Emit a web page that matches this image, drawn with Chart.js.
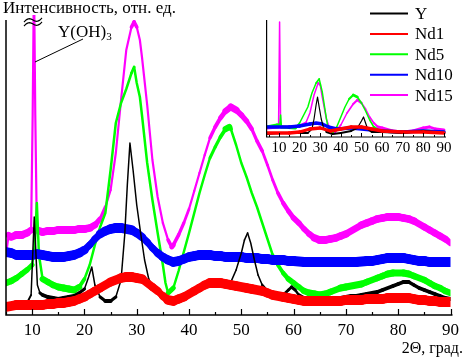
<!DOCTYPE html>
<html><head><meta charset="utf-8">
<script src="https://cdn.jsdelivr.net/npm/chart.js@4/dist/chart.umd.min.js"></script>
<style>
html,body{margin:0;padding:0;background:#fff;}
#wrap{position:relative;width:464px;height:359px;overflow:hidden;}
#main{position:absolute;left:0;top:0;}
#inset{position:absolute;left:250px;top:10px;}
</style></head><body>
<div id="wrap">
<canvas id="main" width="464" height="359"></canvas>
<canvas id="inset" width="214" height="150"></canvas>
</div>
<script>
// ---- data (2Θ in degrees, intensity in arbitrary units) ----
const seriesNames = ['Y', 'Nd1', 'Nd5', 'Nd10', 'Nd15'];
const tickLabels = [10, 20, 30, 40, 50, 60, 70, 80, 90];

const mainY = [[5,8],[6,8],[7,9],[8,10],[9,12],[9.8,20],[10.4,98],[11,30],[11.5,22],[12,20],[13,18],[14,17],[15,16],[16,17],[17,18],[18,19],[19,22],[20,26],[20.8,38],[21.4,48],[22,30],[23,18],[24,14],[25,14],[26,18],[27,35],[27.7,80],[28.2,130],[28.7,172],[29.3,145],[30,110],[30.8,80],[31.5,55],[32.3,36],[33,28],[34,22],[35,17],[36,15],[37,15],[38,17],[39,18],[40,20],[41,23],[42,27],[43,30],[44,32],[45,31],[46,30],[47,29],[48,33],[49,45],[50,62],[50.6,75],[51.2,82],[51.8,72],[52.5,55],[53.2,40],[54,30],[55,24],[56,19],[57,18],[58,20],[59,25],[59.6,28],[60.3,25],[61,20],[62,17],[63,16],[64,15],[65,15],[66,15],[67,16],[68,17],[69,17],[70,18],[71,19],[72,19],[73,20],[74,21],[75,22],[76,23],[77,25],[78,27],[79,29],[80,31],[81,33],[82,33],[83,30],[84,27],[85,25],[86,23],[87,21],[88,19],[89,17],[90,16]];

const mainNd1 = [[5,8],[6,9],[7,10],[8,10],[9,10],[10,10],[11,10],[12,10],[13,11],[14,11],[15,12],[16,12],[17,13],[18,14],[19,16],[20,18],[21,21],[22,24],[23,27],[24,30],[25,33],[26,35],[27,37],[28,38],[29,38],[30,37],[31,36],[32,32],[33,28],[34,24],[35,19],[36,15],[37,14],[38,16],[39,18],[40,21],[41,24],[42,27],[43,30],[44,32],[45,32],[46,32],[47,31],[48,30],[49,29],[50,28],[51,27],[52,26],[53,25],[54,24],[55,22],[56,20],[57,19],[58,18],[59,17],[60,16],[61,15],[62,14],[63,14],[64,14],[65,14],[66,14],[67,14],[68,14],[69,14],[70,15],[71,15],[72,15],[73,15],[74,16],[75,16],[76,16],[77,16],[78,17],[79,17],[80,17],[81,17],[82,17],[83,16],[84,15],[85,15],[86,14],[87,14],[88,13],[89,13],[90,13]];

const mainNd5 = [[5,32],[6,34],[7,37],[8,41],[9,45],[10,50],[10.5,70],[10.9,112],[11.3,60],[12,36],[13,33],[14,30],[15,28],[16,27],[17,26],[18,25],[19,28],[20,36],[21,50],[22,70],[23,88],[24,102],[25,145],[26,192],[27,212],[28,226],[29,242],[29.5,248],[30,232],[30.6,218],[31,200],[32,152],[33,115],[34,82],[35,50],[35.5,32],[36,22],[37,27],[38,44],[39,63],[40,82],[41,102],[42,122],[43,140],[44,157],[45,168],[46,178],[47,186],[47.7,188],[48,186],[49,170],[50,152],[51,138],[52,122],[53,108],[54,92],[55,76],[56,60],[57,50],[58,42],[59,36],[60,32],[61,28],[62,24],[63,22],[64,21],[65,20],[66,21],[67,23],[68,25],[69,27],[70,28],[71,29],[72,30],[73,31],[74,33],[75,35],[76,37],[77,39],[78,41],[79,42],[80,42],[81,42],[82,41],[83,39],[84,37],[85,35],[86,32],[87,29],[88,27],[89,24],[90,22]];

const mainNd10 = [[5,63],[6,62],[7,60],[8,60],[9,60],[10,60],[11,61],[12,60],[13,59],[14,58],[15,58],[16,58],[17,59],[18,60],[19,62],[20,65],[21,70],[22,76],[23,81],[24,84],[25,86],[26,87],[27,87],[28,86],[29,85],[30,82],[31,78],[32,73],[33,67],[34,62],[35,58],[36,55],[37,53],[38,54],[39,56],[40,58],[41,59],[42,60],[43,60],[44,60],[45,59],[46,59],[47,58],[48,58],[49,58],[50,58],[51,57],[52,57],[53,57],[54,56],[55,56],[56,55],[57,55],[58,55],[59,54],[60,54],[62,53],[64,53],[66,53],[68,53],[70,53],[72,53],[74,54],[75,54],[76,55],[77,56],[78,57],[79,57],[80,57],[81,57],[82,56],[83,55],[84,54],[85,54],[86,53],[87,53],[88,53],[89,53],[90,53]];

const mainNd15 = [[5,60],[5.5,80],[6,78],[7,80],[8,80],[9,82],[9.8,85],[10.1,200],[10.35,340],[10.6,200],[10.9,85],[12,83],[13,84],[14,84],[15,85],[16,85],[17,85],[18,85],[19,86],[20,86],[21,87],[22,90],[23,96],[24,108],[25,125],[26,162],[27,215],[28,265],[29,288],[29.5,293],[30,288],[30.6,275],[31,258],[32,210],[33,155],[34,118],[35,92],[36,75],[36.7,68],[37,70],[38,80],[39,92],[40,106],[41,124],[42,142],[43,160],[44,177],[45,188],[46,197],[47,204],[48,208],[49,205],[50,200],[51,194],[52,186],[53,174],[54,164],[55,150],[56,135],[57,122],[58,112],[59,104],[60,97],[61,92],[62,86],[63,81],[64,77],[65,75],[66,75],[67,76],[68,77],[69,79],[70,81],[71,84],[72,87],[73,90],[74,92],[75,94],[76,96],[77,97],[78,98],[79,98],[80,98],[81,97],[82,96],[83,94],[84,91],[85,88],[86,85],[87,82],[88,79],[89,76],[90,72]];

const insetY = [[4,3],[10,4],[20,4],[24,4],[26,8],[27,18],[28,32],[28.7,40],[29.5,30],[30.5,18],[31.5,10],[33,5],[36,3],[40,4],[45,6],[48,9],[50,16],[51,20],[52,14],[53,8],[55,5],[60,5],[70,4],[80,6],[90,4]];
const insetNd1 = [[4,4],[15,4],[20,5],[25,8],[30,9],[35,6],[40,8],[45,10],[50,10],[55,8],[60,6],[70,5],[80,5],[90,4]];
const insetNd5 = [[4,10],[9,12],[10.4,12],[10.8,22],[11.2,10],[18,9],[20,14],[22,22],[24,30],[26,44],[28,54],[29.5,58],[31,45],[32.5,25],[34,6],[36,4],[38,10],[40,20],[42,30],[44,38],[46,42],[48,40],[50,34],[52,26],[54,17],[56,10],[58,7],[60,6],[70,5],[80,6],[90,5]];
const insetNd10 = [[4,10],[15,10],[20,11],[25,13],[28,14],[31,13],[34,10],[38,8],[45,9],[60,6],[70,5],[80,6],[90,5]];
const insetNd15 = [[4,9],[9.8,10],[10.3,115],[10.8,10],[15,10],[20,11],[23,14],[25,24],[27,42],[29,54],[30,52],[31,40],[33,18],[35,6],[37,4],[40,12],[43,24],[46,33],[48,37],[50,34],[52,28],[54,20],[56,14],[58,10],[60,9],[65,6],[70,5],[75,6],[80,9],[83,10],[86,8],[90,7]];

// ---- styles ----
const FONT = '"Liberation Serif", "Times New Roman", serif';
const seriesColors = ['#000000', '#ff0000', '#00ff00', '#0000ff', '#ff00ff'];
const drawOrder = [1, 0, 3, 2, 4];
const mainBand = [4, 10, 7, 10, 8];
const mainMin = [1.5, 3, 2.5, 3, 2.2];
const insetBand = [2, 3.5, 3, 3.5, 3];
const insetMin = [1.2, 1.5, 1.5, 1.5, 1.5];

function makeSet(points, i, band, minW) {
  return {
    label: seriesNames[i],
    data: points.map(p => ({x: p[0], y: p[1]})),
    borderColor: seriesColors[i],
    borderWidth: band[i],
    pointRadius: 0,
    fill: false,
    tension: 0,
    borderCapStyle: 'round',
    borderJoinStyle: 'round',
    order: drawOrder[i],
    segment: {
      borderWidth: ctx => {
        const dx = ctx.p1.x - ctx.p0.x, dy = ctx.p1.y - ctx.p0.y;
        const c = Math.abs(dx) / (Math.hypot(dx, dy) || 1);
        return Math.max(minW[i], band[i] * c);
      }
    }
  };
}

function tickMarks(ctx, chart, major, minor, lw) {
  const a = chart.chartArea, x = chart.scales.x;
  ctx.beginPath();
  for (let v = 5; v <= 90; v += 5) {
    const px = Math.round(x.getPixelForValue(v)) + 0.5;
    const len = (v % 10 === 0) ? major : minor;
    ctx.moveTo(px, a.bottom);
    ctx.lineTo(px, a.bottom - len);
  }
  ctx.lineWidth = lw;
  ctx.stroke();
}

const mainDecor = {
  id: 'mainDecor',
  afterDraw(chart) {
    const ctx = chart.ctx, a = chart.chartArea;
    ctx.save();
    ctx.strokeStyle = '#000';
    ctx.fillStyle = '#000';
    // axes
    ctx.lineWidth = 1.5;
    ctx.beginPath();
    ctx.moveTo(a.left, 20);
    ctx.lineTo(a.left, a.bottom);
    ctx.lineTo(a.right + 2, a.bottom);
    ctx.stroke();
    tickMarks(ctx, chart, 6, 3, 1.2);
    // axis titles
    ctx.font = '17px ' + FONT;
    ctx.textBaseline = 'alphabetic';
    ctx.textAlign = 'left';
    ctx.fillText('Интенсивность, отн. ед.', 3, 13);
    ctx.textAlign = 'right';
    ctx.font = '16px ' + FONT;
    ctx.fillText('2Θ, град.', 463, 353);
    // Y(OH)3 annotation
    ctx.textAlign = 'left';
    ctx.font = '17px ' + FONT;
    ctx.fillText('Y(OH)', 58, 37);
    const w = ctx.measureText('Y(OH)').width;
    ctx.font = '11px ' + FONT;
    ctx.fillText('3', 58 + w, 40);
    ctx.lineWidth = 1;
    ctx.beginPath();
    ctx.moveTo(35, 62);
    ctx.lineTo(83, 39);
    ctx.stroke();
    // axis break mark
    ctx.lineWidth = 1.2;
    for (const k of [0, 4]) {
      ctx.beginPath();
      for (let t = 0; t <= 1.0001; t += 0.05) {
        const px = 24 + 18 * t;
        const py = 22 + k - 4 * t - 2.2 * Math.sin(2 * Math.PI * t);
        if (t === 0) ctx.moveTo(px, py); else ctx.lineTo(px, py);
      }
      ctx.stroke();
    }
    // legend
    ctx.font = '17px ' + FONT;
    ctx.textBaseline = 'middle';
    chart.data.datasets.forEach((ds, i) => {
      const y = 13.5 + 20.4 * i;
      ctx.strokeStyle = ds.borderColor;
      ctx.lineWidth = 2;
      ctx.beginPath();
      ctx.moveTo(370, y);
      ctx.lineTo(408, y);
      ctx.stroke();
      ctx.fillStyle = '#000';
      ctx.fillText(ds.label, 415, y + 1);
    });
    ctx.restore();
  }
};

const insetDecor = {
  id: 'insetDecor',
  afterDraw(chart) {
    const ctx = chart.ctx, a = chart.chartArea;
    ctx.save();
    ctx.strokeStyle = '#000';
    ctx.lineWidth = 1.2;
    ctx.beginPath();
    ctx.moveTo(a.left, a.top);
    ctx.lineTo(a.left, a.bottom);
    ctx.lineTo(a.right, a.bottom);
    ctx.stroke();
    tickMarks(ctx, chart, 4, 2, 1);
    ctx.restore();
  }
};

const mainSets = [mainY, mainNd1, mainNd5, mainNd10, mainNd15].map((p, i) => makeSet(p, i, mainBand, mainMin));
const insetSets = [insetY, insetNd1, insetNd5, insetNd10, insetNd15].map((p, i) => makeSet(p, i, insetBand, insetMin));

function xScale(min, max, fontSize, pad, boxH) {
  return {
    type: 'linear', min: min, max: max,
    afterBuildTicks: s => { s.ticks = tickLabels.map(v => ({value: v})); },
    afterFit: s => { s.height = boxH; },
    grid: {display: false, drawTicks: false},
    border: {display: false},
    ticks: {color: '#000', font: {family: FONT, size: fontSize}, padding: pad, maxRotation: 0, autoSkip: false}
  };
}

new Chart(document.getElementById('main'), {
  type: 'line',
  data: {datasets: mainSets},
  options: {
    responsive: false, animation: false, parsing: true,
    layout: {padding: {left: 6, right: 12.6, top: 15, bottom: 0}},
    plugins: {legend: {display: false}, tooltip: {enabled: false}},
    scales: {
      x: xScale(5, 90, 17, 5, 44),
      y: {display: false, min: 0, max: 300}
    }
  },
  plugins: [mainDecor]
});

new Chart(document.getElementById('inset'), {
  type: 'line',
  data: {datasets: insetSets},
  options: {
    responsive: false, animation: false,
    layout: {padding: {left: 16.6, right: 18, top: 10, bottom: 0}},
    plugins: {legend: {display: false}, tooltip: {enabled: false}},
    scales: {
      x: xScale(4, 91, 15, 2, 23),
      y: {display: false, min: 0, max: 117}
    }
  },
  plugins: [insetDecor]
});
</script>
</body></html>
